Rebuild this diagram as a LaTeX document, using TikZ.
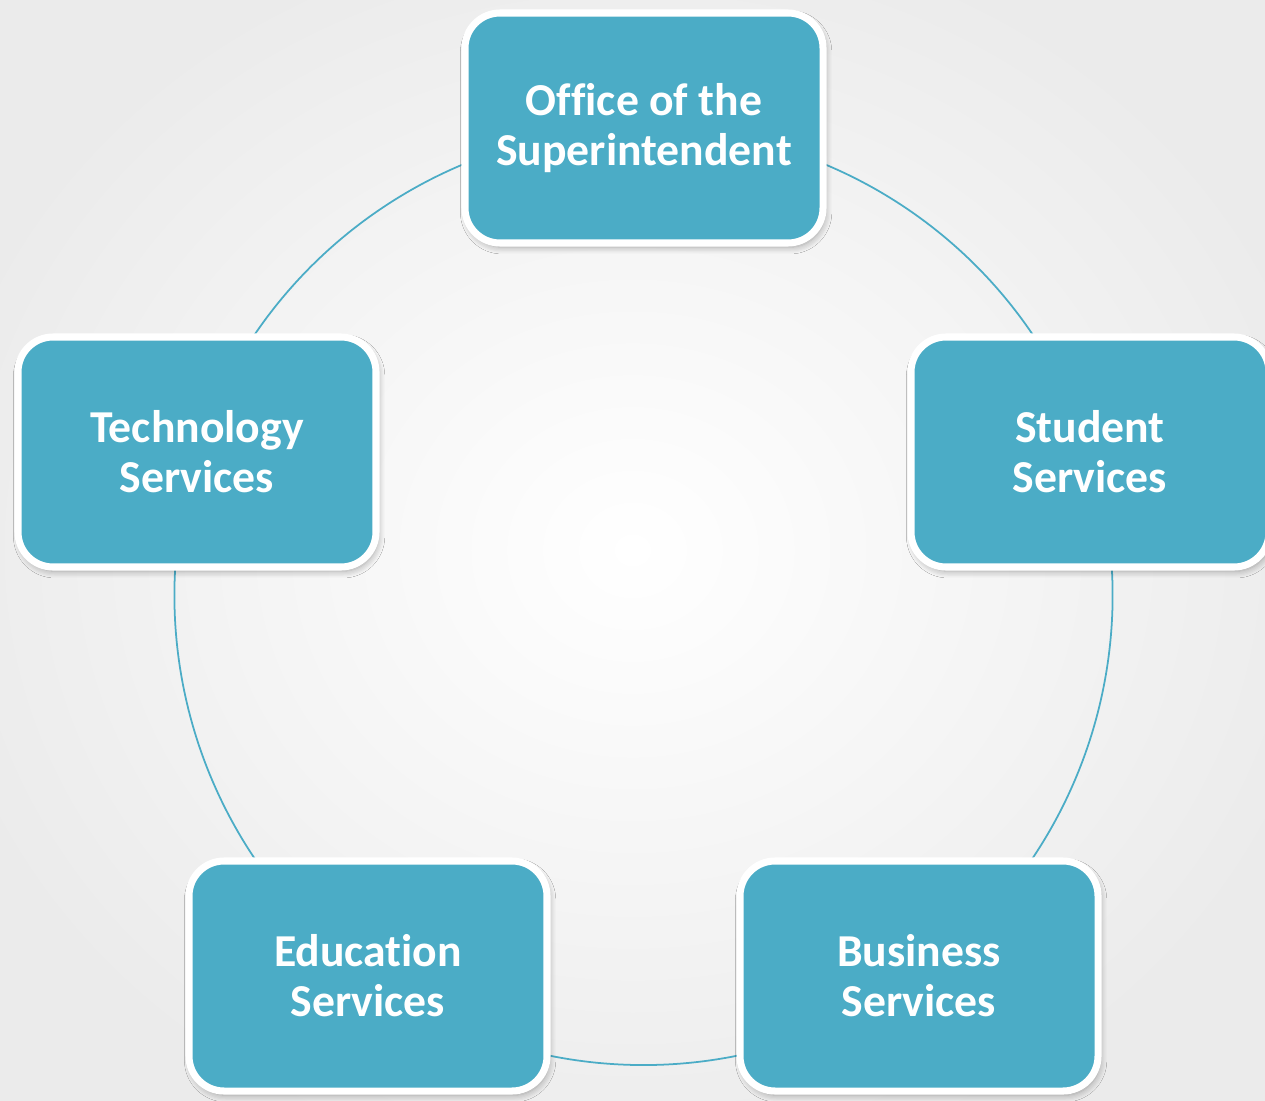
\documentclass[tikz,border=0pt]{standalone}
\usepackage{fontspec}
\setmainfont{Carlito}[Ligatures=CommonOff]
\usetikzlibrary{backgrounds,shadows.blur}

\definecolor{aqua}{HTML}{4BACC6}
\tikzset{
  unit/.style={draw=white, line width=2pt, fill=aqua, rounded corners=0.35cm,
    minimum width=3.58cm, minimum height=2.30cm, inner sep=0pt,
    text=white, align=center, font=\bfseries\fontsize{13}{14.2}\selectfont,
    blur shadow={shadow xshift=0.6pt, shadow yshift=-1.2pt, shadow blur steps=6, shadow opacity=35}},
  ring/.style={draw=aqua, line width=0.5pt, bend right=36, looseness=0.94}
}

\begin{document}
\begin{tikzpicture}
\useasboundingbox (0,0) rectangle (12.65,-11);

\node[unit] (office) at (6.44,-1.28) {Office of the\\Superintendent};
\node[unit] (tech) at (1.97,-4.52) {Technology\\Services};
\node[unit] (student) at (10.90,-4.52) {Student\\Services};
\node[unit] (edu) at (3.68,-9.76) {Education\\Services};
\node[unit] (business) at (9.19,-9.76) {Business\\Services};

\begin{pgfonlayer}{background}
 % soft backdrop
 \shade[inner color=white, outer color=black!8] (-1,1) rectangle (13.65,-12);
 % ring through the units
 \draw[ring] (office.center) to (tech.center);
 \draw[ring] (tech.center) to (edu.center);
 \draw[ring] (edu.center) to (business.center);
 \draw[ring] (business.center) to (student.center);
 \draw[ring] (student.center) to (office.center);
\end{pgfonlayer}
\end{tikzpicture}
\end{document}
